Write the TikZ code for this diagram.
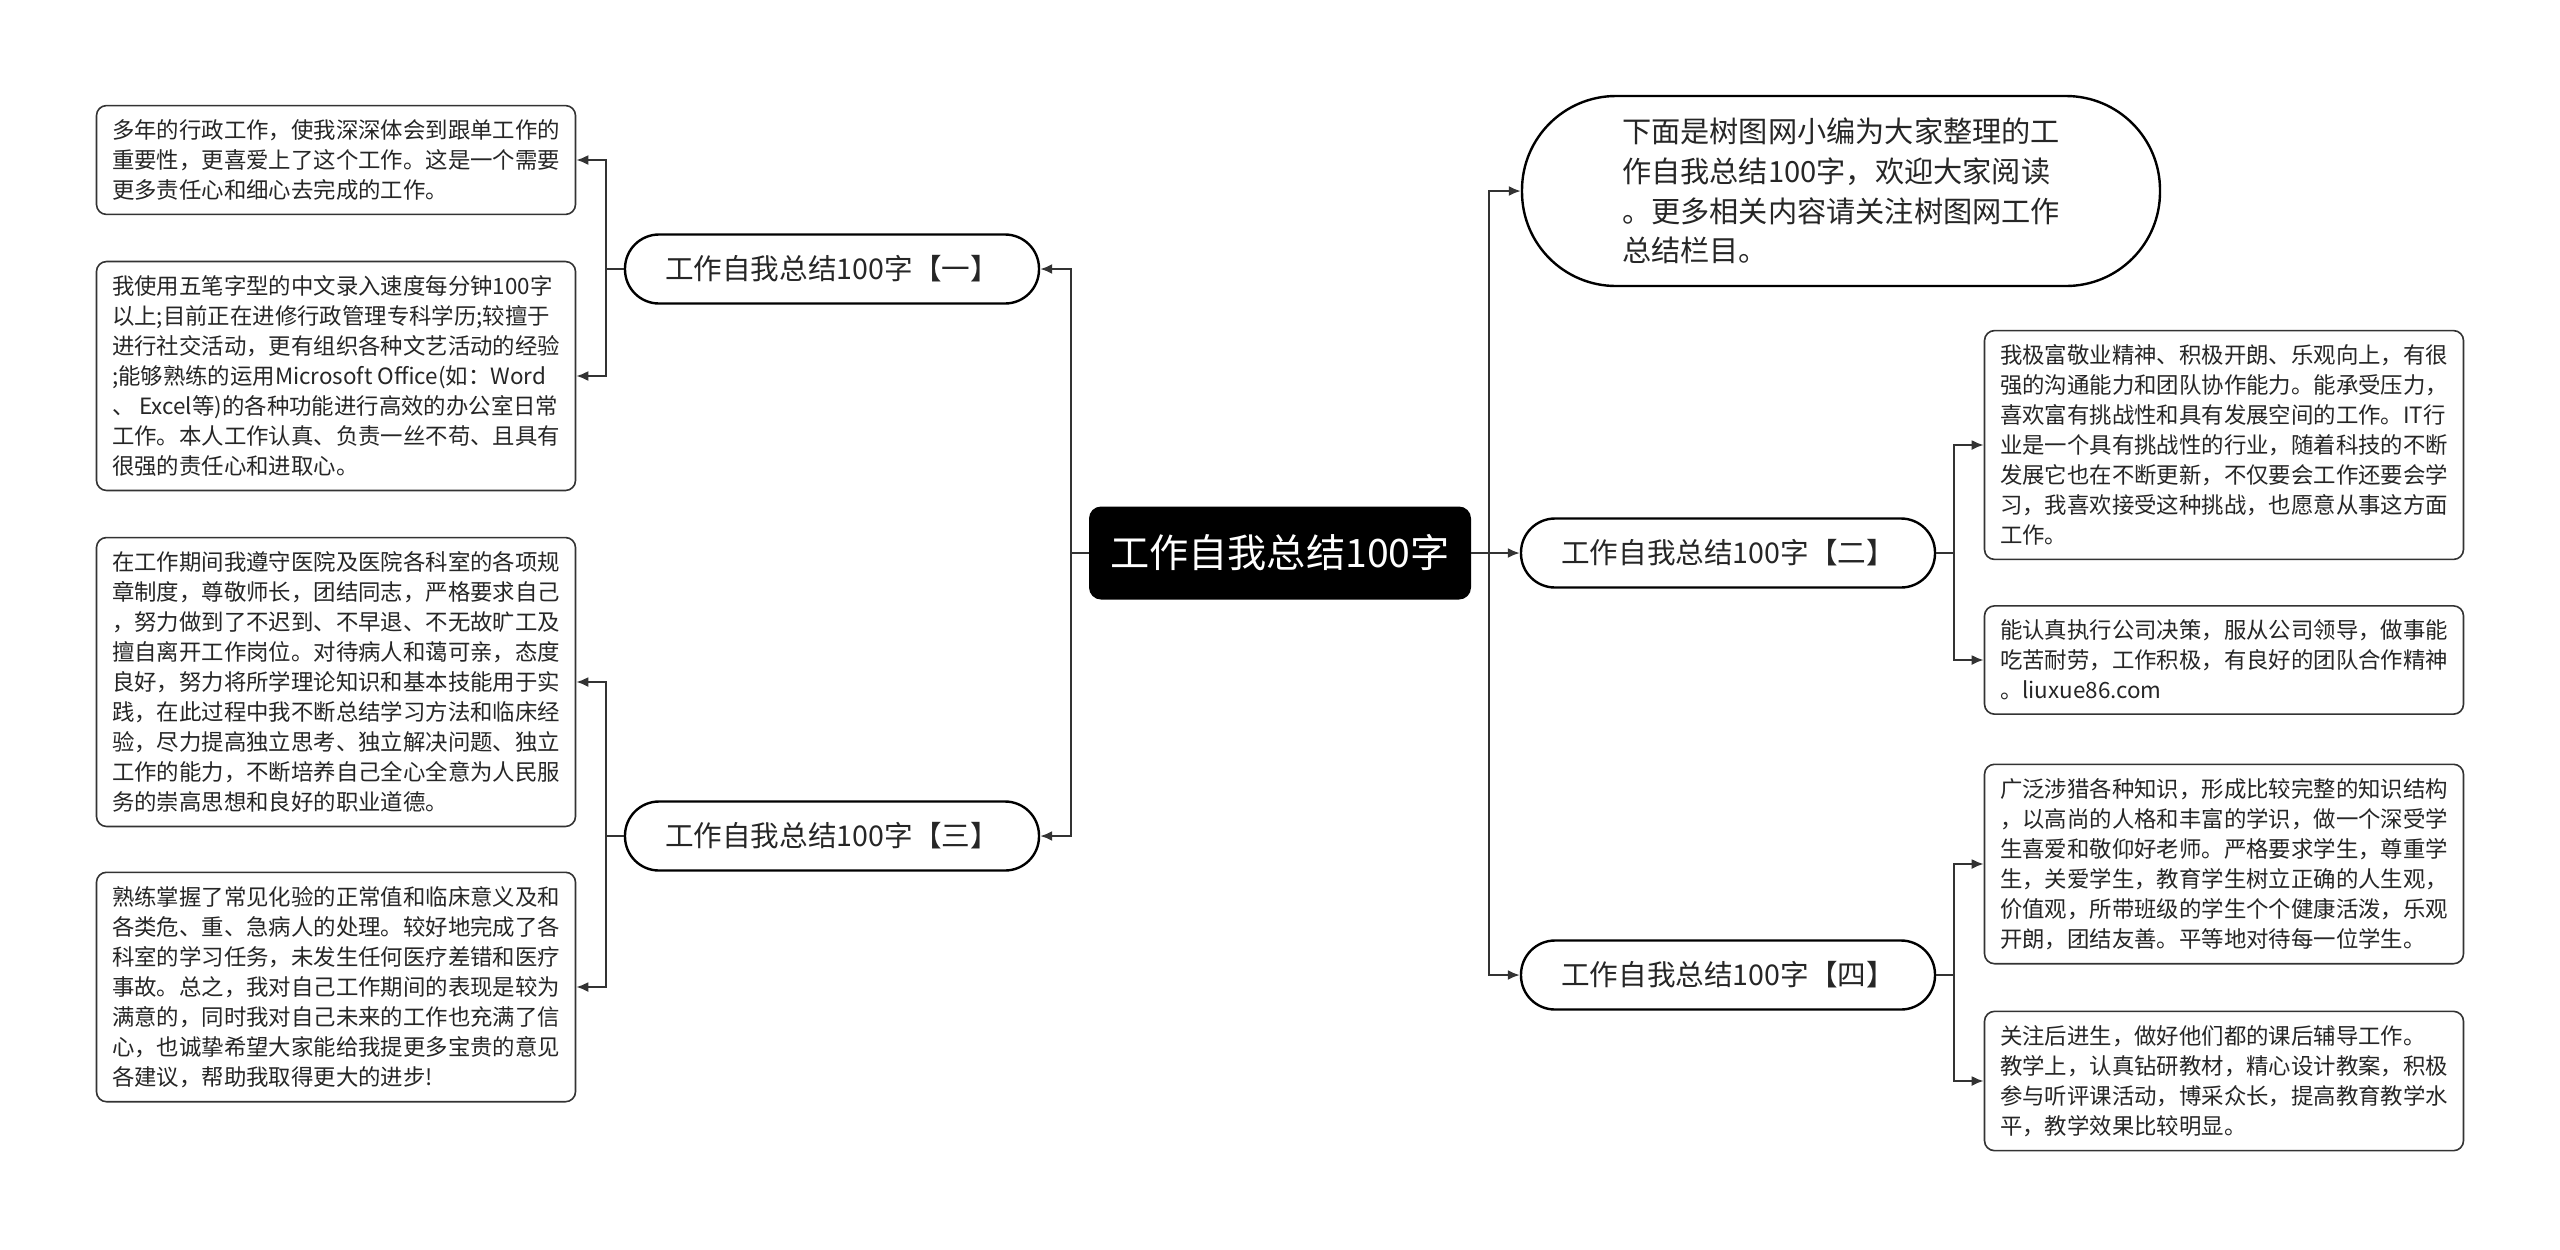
\documentclass[tikz,border=0pt]{standalone}
\usepackage{fontspec}
\setmainfont{Noto Sans CJK SC}
\usetikzlibrary{arrows.meta}
\definecolor{linegray}{HTML}{333333}
\tikzset{
  leafbox/.style={draw=linegray, line width=0.8pt, rounded corners=5pt, align=left,
    minimum width=239.5pt, inner xsep=0pt, inner ysep=7pt,
    font=\fontsize{11.2}{15}\selectfont, text=black!85},
  branchbox/.style={draw=black, line width=1.2pt, rounded corners=17pt,
    minimum width=207pt, minimum height=34.5pt, inner sep=0pt,
    font=\fontsize{14.3}{17}\selectfont, text=black!85},
  introbox/.style={branchbox, rounded corners=47pt, minimum width=319pt,
    minimum height=95pt, align=left, font=\fontsize{14.6}{19.8}\selectfont},
  rootbox/.style={fill=black, rounded corners=6pt, minimum width=191pt,
    minimum height=46.5pt, inner sep=0pt, text=white,
    font=\fontsize{19.6}{22}\selectfont},
}
\begin{document}
\begin{tikzpicture}[x=0.5pt, y=-0.5pt]
      \fill[white] (0,0) rectangle (2560,1249);
      \useasboundingbox (0,0) rectangle (2560,1249);
      \draw
        (1280,553) node[rootbox] (0) {工作自我总结100字}
        (832,269) node[branchbox] (1) {工作自我总结100字【一】}
        (832,836) node[branchbox] (2) {工作自我总结100字【三】}
        (1728,553) node[branchbox] (3) {工作自我总结100字【二】}
        (1728,975) node[branchbox] (4) {工作自我总结100字【四】}
        (1841,191) node[introbox] (5) {下面是树图网小编为大家整理的工\\作自我总结100字，欢迎大家阅读\\。更多相关内容请关注树图网工作\\总结栏目。}
        (336,160) node[leafbox] (6) {多年的行政工作，使我深深体会到跟单工作的\\重要性，更喜爱上了这个工作。这是一个需要\\更多责任心和细心去完成的工作。}
        (336,376) node[leafbox] (7) {我使用五笔字型的中文录入速度每分钟100字\\以上;目前正在进修行政管理专科学历;较擅于\\进行社交活动，更有组织各种文艺活动的经验\\;能够熟练的运用Microsoft Office(如：Word\\、 Excel等)的各种功能进行高效的办公室日常\\工作。本人工作认真、负责一丝不苟、且具有\\很强的责任心和进取心。}
        (336,682) node[leafbox] (8) {在工作期间我遵守医院及医院各科室的各项规\\章制度，尊敬师长，团结同志，严格要求自己\\，努力做到了不迟到、不早退、不无故旷工及\\擅自离开工作岗位。对待病人和蔼可亲，态度\\良好，努力将所学理论知识和基本技能用于实\\践，在此过程中我不断总结学习方法和临床经\\验，尽力提高独立思考、独立解决问题、独立\\工作的能力，不断培养自己全心全意为人民服\\务的崇高思想和良好的职业道德。}
        (336,987) node[leafbox] (9) {熟练掌握了常见化验的正常值和临床意义及和\\各类危、重、急病人的处理。较好地完成了各\\科室的学习任务，未发生任何医疗差错和医疗\\事故。总之，我对自己工作期间的表现是较为\\满意的，同时我对自己未来的工作也充满了信\\心，也诚挚希望大家能给我提更多宝贵的意见\\各建议，帮助我取得更大的进步!}
        (2224,445) node[leafbox] (10) {我极富敬业精神、积极开朗、乐观向上，有很\\强的沟通能力和团队协作能力。能承受压力，\\喜欢富有挑战性和具有发展空间的工作。IT行\\业是一个具有挑战性的行业，随着科技的不断\\发展它也在不断更新，不仅要会工作还要会学\\习，我喜欢接受这种挑战，也愿意从事这方面\\工作。}
        (2224,660) node[leafbox] (11) {能认真执行公司决策，服从公司领导，做事能\\吃苦耐劳，工作积极，有良好的团队合作精神\\。liuxue86.com}
        (2224,864) node[leafbox] (12) {广泛涉猎各种知识，形成比较完整的知识结构\\，以高尚的人格和丰富的学识，做一个深受学\\生喜爱和敬仰好老师。严格要求学生，尊重学\\生，关爱学生，教育学生树立正确的人生观，\\价值观，所带班级的学生个个健康活泼，乐观\\开朗，团结友善。平等地对待每一位学生。}
        (2224,1081) node[leafbox] (13) {关注后进生，做好他们都的课后辅导工作。\\教学上，认真钻研教材，精心设计教案，积极\\参与听评课活动，博采众长，提高教育教学水\\平，教学效果比较明显。};
      \begin{scope}[-{Latex[length=6pt,width=5pt]}, line width=1pt, draw=linegray]
        \draw (0.west) -- ++(-9pt,0) |- (1);
        \draw (0.west) -- ++(-9pt,0) |- (2);
        \draw (0.east) -- ++(9pt,0) |- (5);
        \draw (0.east) -- ++(9pt,0) |- (3);
        \draw (0.east) -- ++(9pt,0) |- (4);
        \draw (1.west) -- ++(-9pt,0) |- (6);
        \draw (1.west) -- ++(-9pt,0) |- (7);
        \draw (2.west) -- ++(-9pt,0) |- (8);
        \draw (2.west) -- ++(-9pt,0) |- (9);
        \draw (3.east) -- ++(9pt,0) |- (10);
        \draw (3.east) -- ++(9pt,0) |- (11);
        \draw (4.east) -- ++(9pt,0) |- (12);
        \draw (4.east) -- ++(9pt,0) |- (13);
      \end{scope}
    \end{tikzpicture}
\end{document}
